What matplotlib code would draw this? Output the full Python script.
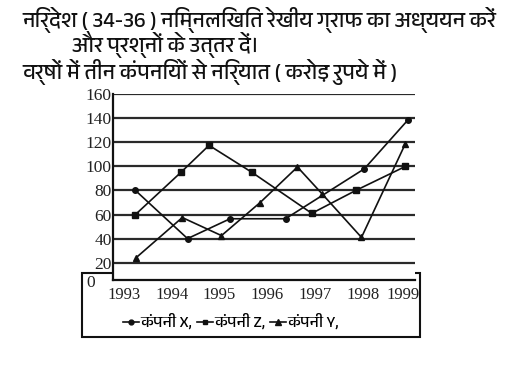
import matplotlib

matplotlib.use("Agg")
import matplotlib.pyplot as plt
import matplotlib.transforms as mtransforms
from matplotlib import font_manager
from matplotlib.ft2font import FT2Font
from matplotlib.legend_handler import HandlerLine2D
from matplotlib.lines import Line2D
from matplotlib.patches import Rectangle

# ---- data (x positions in year units, as drawn) ----
years = [1993, 1994, 1995, 1996, 1997, 1998, 1999]
grid_levels = [20, 40, 60, 80, 100, 120, 140, 160]

x_pos_X = [1993.24, 1994.33, 1995.22, 1996.38, 1998.03, 1998.94]
val_X = [80, 40, 56.5, 56.5, 98, 138.5]

x_pos_Z = [1993.24, 1994.19, 1994.78, 1995.68, 1996.93, 1997.85, 1998.89]
val_Z = [60, 95, 117.5, 95, 61, 80, 100]

x_pos_Y = [1993.25, 1994.22, 1995.04, 1995.85, 1996.63, 1997.15, 1997.97, 1998.89]
val_Y = [24, 57.5, 42.5, 70, 99.5, 77, 41, 119]

title_lines = [
    "निर्देश ( 34-36 ) निम्नलिखित रेखीय ग्राफ का अध्ययन करें",
    "और प्रश्नों के उत्तर दें।",
    "वर्षों में तीन कंपनियों से निर्यात ( करोड़ रुपये में )",
]
legend_labels = ["कंपनी X,", "कंपनी Z,", "कंपनी Y,"]


def devanagari_family():
    """First installed family that actually has Devanagari glyphs."""
    fonts = sorted(font_manager.fontManager.ttflist,
                   key=lambda f: ("Devanagari" not in f.name, f.name))
    for f in fonts:
        try:
            if 0x0915 in FT2Font(f.fname).get_charmap():
                return f.name
        except Exception:
            continue
    return None


class EndMarker(HandlerLine2D):
    """Legend handle with the marker at the right end of the dash."""

    def get_xdata(self, legend, xdescent, ydescent, width, height, fontsize):
        xdata, _ = super().get_xdata(legend, xdescent, ydescent, width, height, fontsize)
        return xdata, [xdata[-1]]


dev = devanagari_family()
HINDI = [dev, "DejaVu Sans"] if dev else ["DejaVu Sans"]
SERIF = ["Liberation Serif", "DejaVu Serif"]
INK = "#111111"

W, H = 520, 392
fig = plt.figure(figsize=(W / 100, H / 100), dpi=100)
ax = fig.add_axes([113 / W, 1 - 280 / H, (415 - 113) / W, (280 - 94.2) / H])
ax.set_xlim(1992.77, 1999.09)
ax.set_ylim(5.6, 160)

for lv in grid_levels:
    ax.axhline(lv, color="#2a2a2a", lw=1.6, zorder=1)

ax.plot(x_pos_X, val_X, color=INK, lw=1.2, marker="o", ms=4, zorder=3)
ax.plot(x_pos_Z, val_Z, color=INK, lw=1.2, marker="s", ms=4.5, zorder=3)
ax.plot(x_pos_Y, val_Y, color=INK, lw=1.2, marker="^", ms=5, zorder=3)

for side in ("top", "right"):
    ax.spines[side].set_visible(False)
for side in ("left", "bottom"):
    ax.spines[side].set_linewidth(1.6)
    ax.spines[side].set_color(INK)

ax.set_yticks(grid_levels)
ax.set_yticklabels([str(v) for v in grid_levels], family=SERIF, fontsize=12.5, color="#222")
ax.set_xticks(years)
ax.set_xticklabels([str(y) for y in years], family=SERIF, fontsize=12, color="#222")
ax.tick_params(axis="y", length=0, pad=1)
ax.tick_params(axis="x", length=0, pad=5)
# the last year label sits pulled in against the box edge, as in the reference
last = ax.get_xticklabels()[-1]
last.set_transform(last.get_transform()
                   + mtransforms.ScaledTranslation(-8 / 100, 0, fig.dpi_scale_trans))

# boxed area under the plot holding "0", the years and the legend
fig.add_artist(Rectangle((82 / W, 1 - 337 / H), (420 - 82) / W, (337 - 273) / H,
                         transform=fig.transFigure, fill=False, lw=1.5, ec=INK, zorder=0))
fig.text(86 / W, 1 - 283 / H, "0", family=SERIF, fontsize=12.5, color="#222", va="center")

handles = [
    Line2D([], [], color=INK, lw=1.2, marker="o", ms=3.5),
    Line2D([], [], color=INK, lw=1.2, marker="s", ms=3.5),
    Line2D([], [], color=INK, lw=1.2, marker="^", ms=4),
]
fig.legend(handles, legend_labels, loc="center", bbox_to_anchor=(231 / W, 1 - 322 / H),
           ncol=3, frameon=False, numpoints=1, handlelength=1.0, handletextpad=0.1,
           columnspacing=0.3, prop={"family": HINDI, "size": 11.5},
           handler_map={Line2D: EndMarker()})

# three-line heading
for (x, y), line in zip([(22, 20), (72, 45), (22, 72)], title_lines):
    fig.text(x / W, 1 - y / H, line, family=HINDI, fontsize=15.5, fontweight="bold",
             va="center", ha="left", color="#111")

fig.savefig("out.png", dpi=100)
